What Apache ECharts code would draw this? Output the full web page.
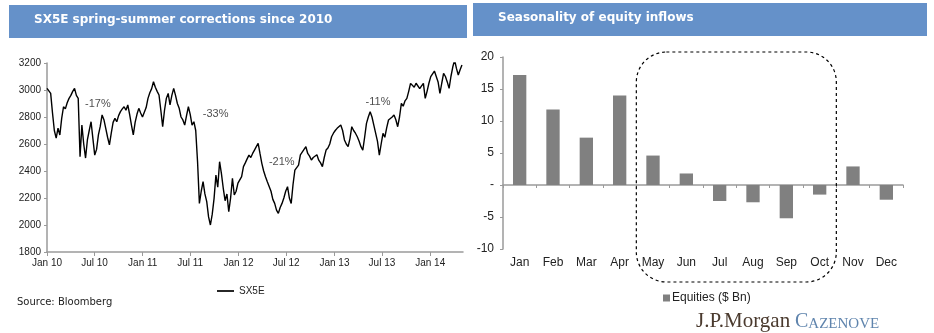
<!DOCTYPE html>
<html><head><meta charset="utf-8">
<script src="https://cdn.jsdelivr.net/npm/echarts@6/dist/echarts.min.js"></script>
<style>html,body{margin:0;padding:0;background:#fff}#c{width:934px;height:333px}</style>
</head><body><div id="c"></div>
<script>
// ---- Left chart: SX5E weekly closes (start 2010-01-01, one value per week) ----
const sx5eStart = '2010-01-01';
const sx5eWeekly = [
 3012,3000,2975,2830,2700,2644,2718,2667,2790,2876,
 2860,2905,2938,2960,2990,3012,2960,2938,2506,2740,
 2600,2496,2630,2700,2765,2640,2518,2560,2667,2730,
 2815,2780,2716,2650,2593,2680,2760,2790,2765,2810,
 2840,2860,2876,2850,2889,2820,2740,2667,2760,2820,
 2864,2830,2800,2790,2870,2938,2980,3010,3061,3020,
 2990,2963,2850,2728,2850,2938,2975,2889,2960,3012,
 2960,2900,2864,2800,2778,2740,2810,2876,2820,2740,
 2765,2700,2469,2160,2250,2321,2230,2173,2060,2000,
 2080,2197,2370,2280,2469,2380,2272,2180,2230,2099,
 2200,2346,2222,2250,2310,2300,2358,2432,2460,2490,
 2518,2500,2530,2555,2580,2605,2530,2457,2400,2358,
 2320,2309,2250,2190,2160,2110,2086,2130,2160,2200,
 2250,2284,2200,2160,2300,2407,2420,2444,2520,2540,
 2560,2580,2530,2510,2481,2500,2506,2520,2480,2460,
 2432,2500,2555,2570,2600,2654,2680,2700,2716,2730,
 2740,2700,2630,2600,2580,2640,2728,2700,2680,2654,
 2620,2580,2555,2650,2753,2800,2839,2800,2740,2728,
 2620,2518,2600,2679,2650,2720,2778,2770,2800,2815,
 2780,2728,2800,2901,2880,2920,2938,2990,3049,3040,
 3020,3050,3061,3010,3030,3049,2938,2990,3050,3099,
 3120,3140,3148,3060,2975,3050,3123,3100,3060,3012,
 3100,3170,3222,3160,3111,3150,3185
];
const sx5eTickLabels = ['Jan 10','Jul 10','Jan 11','Jul 11','Jan 12','Jul 12','Jan 13','Jul 13','Jan 14'];
const sx5eTickDates  = ['2010-01-01','2010-07-01','2011-01-01','2011-07-01','2012-01-01','2012-07-01','2013-01-01','2013-07-01','2014-01-01'];
const annotLabels = ['-17%','-33%','-21%','-11%'];
const annotDates  = ['2010-07-14','2011-10-06','2012-06-14','2013-06-16'];
const annotValues = [2896, 2822, 2467, 2911];

// ---- Right chart: seasonality of equity inflows ----
const months = ['Jan','Feb','Mar','Apr','May','Jun','Jul','Aug','Sep','Oct','Nov','Dec'];
const equities = [17.2, 11.8, 7.4, 14.0, 4.6, 1.8, -2.5, -2.7, -5.2, -1.5, 2.9, -2.3];

const DAY = 86400000;
const t0 = Date.parse(sx5eStart);
const dayOf = d => Math.round((Date.parse(d) - t0) / DAY);
const tickDays = sx5eTickDates.map(dayOf);
const lineData = sx5eWeekly.map((v, i) => [i * 7, v]);
const annotData = annotLabels.map((l, i) => ({ value: [dayOf(annotDates[i]), annotValues[i]], name: l }));

const narrow = "'Liberation Sans Narrow','Arial Narrow','Liberation Sans',sans-serif";
const arial = "'Liberation Sans',Arial,sans-serif";

const chart = echarts.init(document.getElementById('c'), null, { renderer: 'canvas' });
const option = {
  animation: false,
  backgroundColor: '#fff',
  grid: [
    { left: 47, top: 63, width: 416, height: 189 },
    { left: 503, top: 57, width: 400, height: 192 }
  ],
  xAxis: [
    { type: 'value', gridIndex: 0, min: 0, max: 1586,
      axisLine: { lineStyle: { color: '#9a9a9a', width: 1.5 } },
      axisTick: { show: true, length: 4, lineStyle: { color: '#9a9a9a' }, customValues: tickDays },
      axisLabel: { customValues: tickDays, color: '#222', fontFamily: arial, fontSize: 10, margin: 6,
        formatter: v => { const k = tickDays.indexOf(Math.round(v)); return k >= 0 ? sx5eTickLabels[k] : ''; } },
      splitLine: { show: false } },
    { type: 'category', gridIndex: 1, data: months,
      axisLine: { onZero: true, lineStyle: { color: '#9a9a9a', width: 1.5 } },
      axisTick: { show: true, length: 3, inside: false, lineStyle: { color: '#9a9a9a' } },
      axisLabel: { color: '#222', fontFamily: narrow, fontSize: 12, margin: 8 },
      splitLine: { show: false } }
  ],
  yAxis: [
    { type: 'value', gridIndex: 0, min: 1800, max: 3200, interval: 200,
      axisLine: { show: true, lineStyle: { color: '#9a9a9a', width: 1.5 } },
      axisTick: { show: true, length: 3, lineStyle: { color: '#9a9a9a' } },
      axisLabel: { color: '#222', fontFamily: arial, fontSize: 10, margin: 6, formatter: v => String(v) },
      splitLine: { show: false } },
    { type: 'value', gridIndex: 1, min: -10, max: 20, interval: 5,
      axisLine: { show: true, lineStyle: { color: '#9a9a9a', width: 1.5 } },
      axisTick: { show: true, length: 3, lineStyle: { color: '#9a9a9a' } },
      axisLabel: { color: '#222', fontFamily: narrow, fontSize: 12, margin: 9,
        formatter: v => v === 0 ? '-' : String(v) },
      splitLine: { show: false } }
  ],
  legend: [
    { data: [{ name: 'SX5E', icon: 'path://M0,0 L20,0 L20,2 L0,2 Z' }], left: 212, top: 281,
      itemWidth: 17, itemHeight: 2, itemGap: 4,
      textStyle: { color: '#222', fontFamily: arial, fontSize: 10 } },
    { data: [{ name: 'Equities ($ Bn)', icon: 'rect' }], left: 658, top: 287,
      itemWidth: 7, itemHeight: 7, itemGap: 2,
      textStyle: { color: '#222', fontFamily: narrow, fontSize: 12, padding: [0, 0, 0, -3] } }
  ],
  series: [
    { name: 'SX5E', type: 'line', xAxisIndex: 0, yAxisIndex: 0, data: lineData,
      showSymbol: false, symbol: 'none', lineStyle: { color: '#000', width: 1.4 }, itemStyle: { color: '#000' } },
    { name: 'annot', type: 'scatter', xAxisIndex: 0, yAxisIndex: 0, data: annotData,
      symbolSize: 1, itemStyle: { color: 'rgba(0,0,0,0)' }, silent: true,
      label: { show: true, position: 'inside', formatter: p => p.name, color: '#222', fontFamily: arial, fontSize: 11 } },
    { name: 'Equities ($ Bn)', type: 'bar', xAxisIndex: 1, yAxisIndex: 1, data: equities,
      barWidth: '40%', itemStyle: { color: '#808080' } }
  ]
};
chart.setOption(option);

// annotation: dashed rounded box around May..Oct (computed from category boundaries)
const pMay = chart.convertToPixel({ xAxisIndex: 1 }, 'May');
const pOct = chart.convertToPixel({ xAxisIndex: 1 }, 'Oct');
const halfCat = 400 / 12 / 2;
const boxL = pMay - halfCat, boxR = pOct + halfCat;

chart.setOption({
  graphic: [
    { type: 'rect', left: 9, top: 5, shape: { width: 458, height: 33 }, style: { fill: '#6591C9' }, silent: true },
    { type: 'text', left: 34, top: 14, style: { text: 'SX5E spring-summer corrections since 2010', fill: '#fff',
        font: "bold 12px 'DejaVu Sans', sans-serif" } },
    { type: 'rect', left: 473, top: 3, shape: { width: 454, height: 33 }, style: { fill: '#6591C9' }, silent: true },
    { type: 'text', left: 498, top: 12, style: { text: 'Seasonality of equity inflows', fill: '#fff',
        font: "bold 12px 'DejaVu Sans', sans-serif" } },
    { type: 'rect', shape: { x: boxL, y: 52, width: boxR - boxL, height: 230, r: 30 },
      style: { fill: 'none', stroke: '#000', lineWidth: 1.2, lineDash: [3, 3] }, silent: true, z: 10 },
    { type: 'text', left: 17, top: 297, style: { text: 'Source: Bloomberg', fill: '#222', font: "10px 'DejaVu Sans', sans-serif" } },
    { type: 'text', left: 696, top: 311, style: { text: 'J.P.Morgan', fill: '#4a3a2e', font: "21px 'Liberation Serif', serif" } },
    { type: 'text', left: 795, top: 312, style: { text: '{a|C}{b|AZENOVE}', fill: '#5f84ad',
        rich: { a: { fontSize: 20, fontFamily: "'Liberation Serif', serif", fill: '#5f84ad', verticalAlign: 'bottom' },
                b: { fontSize: 15, fontFamily: "'Liberation Serif', serif", fill: '#5f84ad', verticalAlign: 'bottom' } } } }
  ]
});
</script></body></html>
